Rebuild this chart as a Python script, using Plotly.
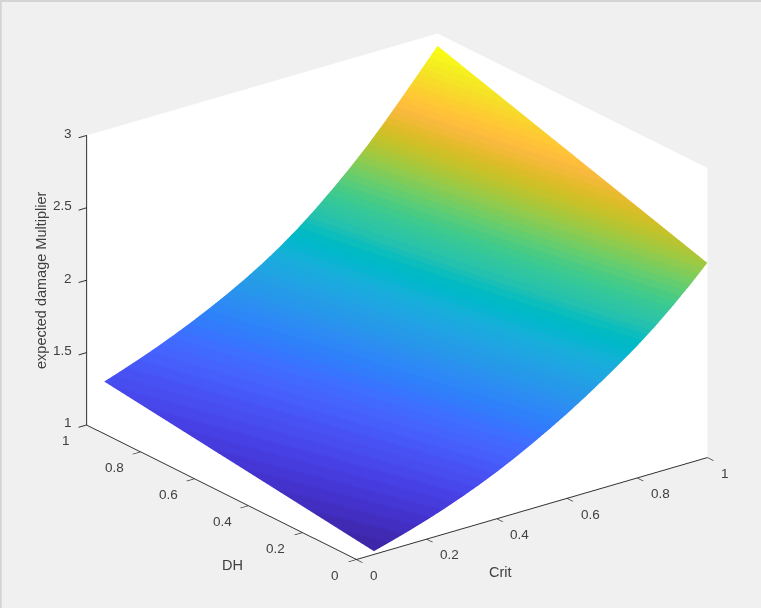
import plotly.graph_objects as go

crit = [0.05, 0.10, 0.15, 0.20, 0.25, 0.30, 0.35, 0.40, 0.45, 0.50,
        0.55, 0.60, 0.65, 0.70, 0.75, 0.80, 0.85, 0.90, 0.95, 1.00]
dh = [0.0, 0.5, 1.0]
z_dh0 = [1.022, 1.056, 1.092, 1.131, 1.173, 1.219, 1.269, 1.323, 1.382, 1.446,
         1.513, 1.584, 1.660, 1.740, 1.824, 1.912, 2.008, 2.113, 2.225, 2.345]
z_dh5 = [1.144, 1.182, 1.222, 1.265, 1.311, 1.361, 1.415, 1.473, 1.536, 1.605,
         1.678, 1.758, 1.845, 1.938, 2.036, 2.140, 2.253, 2.374, 2.500, 2.630]
z_dh1 = [1.265, 1.307, 1.351, 1.398, 1.449, 1.503, 1.561, 1.623, 1.690, 1.763,
         1.843, 1.932, 2.030, 2.136, 2.248, 2.368, 2.498, 2.635, 2.775, 2.915]
xy_ticks = [0, 0.2, 0.4, 0.6, 0.8, 1]
z_ticks = [1, 1.5, 2, 2.5, 3]
parula = [
 (0.2422,0.1504,0.6603),(0.2504,0.1650,0.7076),(0.2578,0.1818,0.7511),(0.2647,0.1978,0.7952),
 (0.2706,0.2147,0.8364),(0.2751,0.2342,0.8710),(0.2783,0.2559,0.8991),(0.2803,0.2782,0.9221),
 (0.2813,0.3006,0.9414),(0.2810,0.3228,0.9579),(0.2795,0.3447,0.9717),(0.2760,0.3667,0.9829),
 (0.2699,0.3892,0.9906),(0.2602,0.4123,0.9952),(0.2440,0.4358,0.9988),(0.2206,0.4603,0.9973),
 (0.1963,0.4847,0.9892),(0.1834,0.5074,0.9798),(0.1786,0.5289,0.9682),(0.1764,0.5499,0.9520),
 (0.1687,0.5703,0.9359),(0.1540,0.5902,0.9218),(0.1460,0.6091,0.9079),(0.1380,0.6276,0.8973),
 (0.1248,0.6459,0.8883),(0.1113,0.6635,0.8763),(0.0952,0.6798,0.8598),(0.0689,0.6948,0.8394),
 (0.0297,0.7082,0.8163),(0.0036,0.7203,0.7917),(0.0067,0.7312,0.7660),(0.0433,0.7411,0.7394),
 (0.0964,0.7500,0.7120),(0.1408,0.7584,0.6842),(0.1717,0.7670,0.6554),(0.1938,0.7758,0.6251),
 (0.2161,0.7843,0.5923),(0.2470,0.7918,0.5567),(0.2906,0.7973,0.5188),(0.3406,0.8008,0.4789),
 (0.3909,0.8029,0.4354),(0.4456,0.8024,0.3909),(0.5044,0.7993,0.3480),(0.5616,0.7942,0.3045),
 (0.6174,0.7876,0.2612),(0.6720,0.7793,0.2227),(0.7242,0.7698,0.1910),(0.7738,0.7598,0.1646),
 (0.8203,0.7498,0.1535),(0.8634,0.7406,0.1596),(0.9035,0.7330,0.1774),(0.9393,0.7288,0.2100),
 (0.9728,0.7298,0.2394),(0.9956,0.7434,0.2371),(0.9970,0.7659,0.2199),(0.9952,0.7893,0.2028),
 (0.9892,0.8136,0.1885),(0.9786,0.8386,0.1766),(0.9676,0.8639,0.1643),(0.9610,0.8890,0.1537),
 (0.9597,0.9135,0.1423),(0.9628,0.9373,0.1265),(0.9691,0.9606,0.1064),(0.9769,0.9839,0.0805)]

n = len(parula)
cs = []
for i, (r, g, b) in enumerate(parula):
    col = f"rgb({round(r*255)},{round(g*255)},{round(b*255)})"
    cs.append([i / n, col])
    cs.append([(i + 1) / n, col])

fig = go.Figure(go.Surface(
    x=crit, y=dh, z=[z_dh0, z_dh5, z_dh1],
    colorscale=cs, showscale=False,
    lighting=dict(ambient=1, diffuse=0, specular=0, fresnel=0),
    hoverinfo="skip",
))

font = dict(family="Liberation Sans, Arial, sans-serif", size=13.5, color="#404040")
title_font = dict(family="Liberation Sans, Arial, sans-serif", size=14.5, color="#404040")

def axis(rng, ticks):
    return dict(range=rng, tickvals=ticks, showticklabels=False,
                title=dict(text=""), showgrid=False, zeroline=False,
                showbackground=True, backgroundcolor="white",
                showline=True, linecolor="#303030", linewidth=2,
                ticks="outside", ticklen=10, tickcolor="#303030", tickwidth=2,
                showspikes=False)

tick_labels = []
for t in xy_ticks:
    tick_labels.append(dict(x=t, y=0, z=1, text=f"{t:g}", showarrow=False, font=font,
                            xanchor="left", yanchor="middle", xshift=11.5, yshift=-16))
    tick_labels.append(dict(x=0, y=t, z=1, text=f"{t:g}", showarrow=False, font=font,
                            xanchor="right", yanchor="middle", xshift=-15, yshift=-16))
for t in z_ticks:
    tick_labels.append(dict(x=0, y=1, z=t, text=f"{t:g}", showarrow=False, font=font,
                            xanchor="right", yanchor="middle", xshift=-13, yshift=2))

fig.update_layout(
    width=761, height=608, margin=dict(l=0, r=0, t=0, b=0),
    paper_bgcolor="#f0f0f0",
    scene=dict(
        domain=dict(x=[0.0434, 1], y=[0.025, 1]),
        xaxis=axis([0, 1], xy_ticks),
        yaxis=axis([0, 1], xy_ticks),
        zaxis=axis([1, 3], z_ticks),
        aspectmode="manual",
        aspectratio=dict(x=1.489, y=1.5, z=1.056),
        camera=dict(projection=dict(type="orthographic"),
                    eye=dict(x=-0.561*2.08, y=-0.735*2.08, z=0.3805*2.08),
                    center=dict(x=0, y=0, z=0), up=dict(x=0, y=0, z=1)),
        annotations=tick_labels,
    ),
    shapes=[
        dict(type="line", xref="paper", yref="paper", x0=0, x1=1, y0=0.9985, y1=0.9985,
             line=dict(color="#d4d4d4", width=2)),
        dict(type="line", xref="paper", yref="paper", x0=0.001, x1=0.001, y0=0, y1=1,
             line=dict(color="#d4d4d4", width=2)),
    ],
    annotations=[
        dict(text="Crit", x=500/761, y=1-572/608, xref="paper", yref="paper", showarrow=False,
             font=title_font, xanchor="center", yanchor="middle"),
        dict(text="DH", x=233/761, y=1-565/608, xref="paper", yref="paper", showarrow=False,
             font=title_font, xanchor="center", yanchor="middle"),
        dict(text="expected damage Multiplier", x=41/761, y=1-281/608, xref="paper", yref="paper",
             showarrow=False, font=title_font, textangle=-90, xanchor="center", yanchor="middle"),
    ],
)
fig.write_html("out.html", config=dict(displayModeBar=False),
               post_script="document.body.style.margin='0';document.body.style.background='#f0f0f0';")
